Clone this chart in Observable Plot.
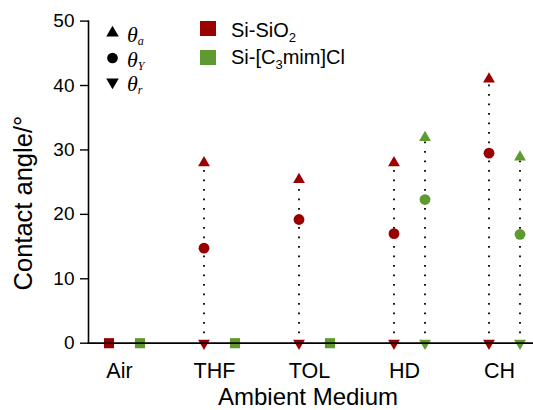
<!DOCTYPE html>
<html><head><meta charset="utf-8">
<script src="https://cdn.jsdelivr.net/npm/d3@7"></script>
<script src="https://cdn.jsdelivr.net/npm/@observablehq/plot@0.6"></script>
<style>
body{margin:0;background:#fff;}
#wrap{position:relative;width:533px;height:410px;}
</style></head><body><div id="wrap"></div>
<script>
// ---- data ----
const media = ["Air", "THF", "TOL", "HD", "CH"];
const substrates = ["Si-SiO2", "Si-[C3mim]Cl"];
const colors = ["#9b0000", "#5e9a2f"];
// null = complete wetting (drawn as a square at 0°)
const advSiO2   = [null, 28.0, 25.4, 28.0, 41.0];
const youngSiO2 = [null, 14.75, 19.2, 17.0, 29.5];
const recSiO2   = [null, 0, 0, 0, 0];
const advIL     = [null, null, null, 31.9, 28.9];
const youngIL   = [null, null, null, 22.3, 16.9];
const recIL     = [null, null, null, 0, 0];
const yTicks = [0, 10, 20, 30, 40, 50];
const angleSubs = ["a", "Y", "r"];
const substrateMain = [["Si-SiO", "2", ""], ["Si-[C", "3", "mim]Cl"]];

const series = [
  {substrate: substrates[0], adv: advSiO2, young: youngSiO2, rec: recSiO2},
  {substrate: substrates[1], adv: advIL, young: youngIL, rec: recIL}
];
const rows = series.flatMap(s => media.map((m, i) => ({
  medium: m, substrate: s.substrate, adv: s.adv[i], young: s.young[i], rec: s.rec[i]
})));

const offs = [-15.5, 15.5];
const marks = [];
substrates.forEach((sub, k) => {
  const meas = rows.filter(d => d.substrate === sub && d.adv != null);
  const wet = rows.filter(d => d.substrate === sub && d.adv == null);
  const dx = offs[k];
  marks.push(
    Plot.ruleX(meas, {x: "medium", y1: "rec", y2: "adv", dx, stroke: "#000", strokeWidth: 1.8, strokeDasharray: "1.8,7.7"}),
    Plot.dot(meas, {x: "medium", y: "adv", dx, symbol: "triangle", r: 4.4, fill: "substrate", stroke: "none"}),
    Plot.dot(meas, {x: "medium", y: "young", dx, symbol: "circle", r: 5.4, fill: "substrate", stroke: "none"}),
    Plot.dot(meas, {x: "medium", y: "rec", dx, symbol: "triangle", rotate: 180, r: 4.4, fill: "substrate", stroke: "none"}),
    Plot.dot(wet, {x: "medium", y: () => 0, dx, symbol: "square", r: 5.7, fill: "substrate", stroke: "none"})
  );
});

const chart = Plot.plot({
  width: 533,
  height: 410,
  marginLeft: 88,
  marginRight: 0,
  marginTop: 20.6,
  marginBottom: 67.3,
  style: {fontFamily: "'Liberation Sans', Arial, sans-serif", color: "#000", background: "#fff"},
  x: {type: "point", domain: media, padding: 0.332, align: 0.56},
  y: {domain: [0, 50]},
  color: {domain: substrates, range: colors},
  marks: [
    Plot.frame({anchor: "left", strokeWidth: 1.6}),
    Plot.axisY({ticks: yTicks, tickSize: 8, tickPadding: 6, fontSize: 19, label: null, strokeWidth: 1.4}),
    Plot.axisX({tickSize: 0, tickPadding: 20, fontSize: 21.5, dx: -5, label: null}),
    Plot.text(["Contact angle/°"], {text: d => d, frameAnchor: "left", dx: -65, dy: 21, rotate: -90, fontSize: 25.5, lineAnchor: "middle", textAnchor: "middle"}),
    Plot.text(["Ambient Medium"], {text: d => d, frameAnchor: "bottom", dx: -3, dy: 45, lineAnchor: "top", fontSize: 24}),
    ...marks,
    Plot.frame({anchor: "bottom", strokeWidth: 1.8})
  ]
});
document.getElementById("wrap").appendChild(chart);

// ---- legends ----
const svg = d3.select(chart);
const g = svg.append("g").attr("text-anchor", "start");
const symTypes = [d3.symbolTriangle, d3.symbolCircle, d3.symbolTriangle];
const rots = [0, 0, 180];
const rowY = [33, 58, 82];
const baseY = [42, 67, 91];
angleSubs.forEach((s, i) => {
  g.append("path")
    .attr("d", d3.symbol().type(symTypes[i]).size(i === 1 ? 90 : 68)())
    .attr("transform", `translate(112.5,${rowY[i]}) rotate(${rots[i]})`)
    .attr("fill", "#000");
  const t = g.append("text").attr("x", 127).attr("y", baseY[i])
    .attr("font-family", "'Liberation Serif', 'DejaVu Serif', serif")
    .attr("font-style", "italic").attr("font-size", 22).attr("fill", "#000");
  t.append("tspan").text("θ");
  t.append("tspan").attr("font-size", 12).attr("dy", 3).text(s);
});
const sqY = [21, 50];
const sBase = [37, 63.5];
substrateMain.forEach((parts, i) => {
  g.append("rect").attr("x", 200).attr("y", sqY[i]).attr("width", 16).attr("height", 15).attr("fill", colors[i]);
  const t = g.append("text").attr("x", 231).attr("y", sBase[i])
    .attr("font-family", "'Liberation Sans', Arial, sans-serif").attr("font-size", 20).attr("fill", "#000");
  t.append("tspan").text(parts[0]);
  t.append("tspan").attr("font-size", 13).attr("dy", 5).text(parts[1]);
  t.append("tspan").attr("dy", -5).text(parts[2]);
});
</script></body></html>
